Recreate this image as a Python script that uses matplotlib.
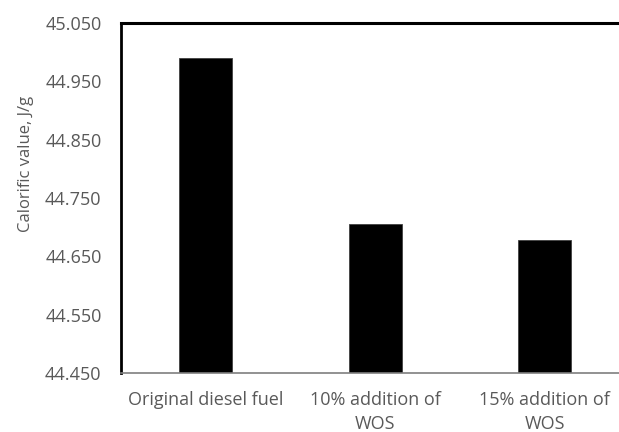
import matplotlib.pyplot as plt

categories = ["Original diesel fuel", "10% addition of\nWOS", "15% addition of\nWOS"]
values = [44.990, 44.705, 44.678]
yticks = [44.450, 44.550, 44.650, 44.750, 44.850, 44.950, 45.050]

plt.rcParams["font.family"] = ["Open Sans", "DejaVu Sans"]
text_color = "#595959"

fig = plt.figure(figsize=(6.19, 4.32), dpi=100)
ax = fig.add_axes([121 / 619, 1 - 373 / 432, 508.5 / 619, 350 / 432])

x = list(range(len(categories)))
ax.bar(x, [v - yticks[0] for v in values], bottom=yticks[0], width=0.31,
       color="black", edgecolor="#404040", linewidth=0.6)

ax.set_xlim(-0.5, 2.5)
ax.set_ylim(yticks[0], yticks[-1])
ax.set_yticks(yticks)
ax.set_yticklabels([f"{t:.3f}" for t in yticks])
ax.set_xticks(x)
ax.set_xticklabels(categories, linespacing=1.4)
ax.tick_params(length=0, labelsize=13, colors=text_color)
ax.tick_params(axis="y", pad=14)
ax.tick_params(axis="x", pad=13)
ax.set_ylabel("Calorific value, J/g", fontsize=12, color=text_color)
ax.yaxis.set_label_coords(-0.172, 0.597)

ax.spines["left"].set_linewidth(2)
ax.spines["left"].set_color("black")
ax.spines["top"].set_linewidth(2.2)
ax.spines["top"].set_color("black")
ax.spines["right"].set_linewidth(2)
ax.spines["bottom"].set_linewidth(1.2)
ax.spines["bottom"].set_color("#7f7f7f")

fig.savefig("out.png", dpi=100)
